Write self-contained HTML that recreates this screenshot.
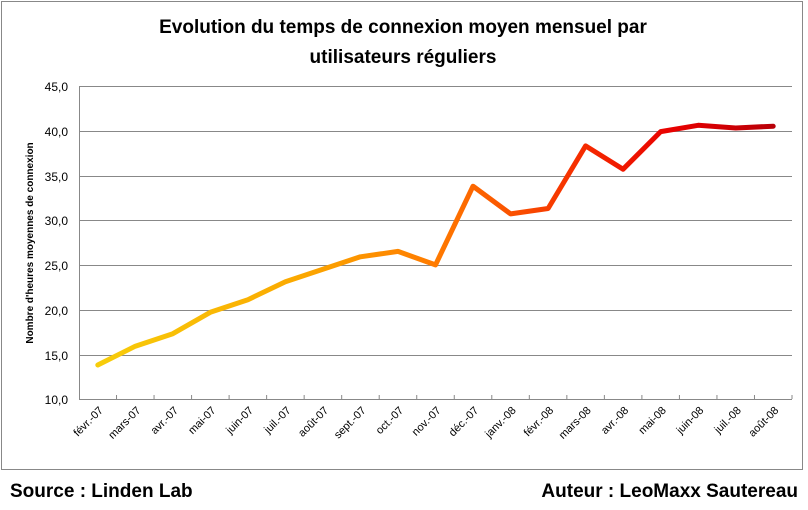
<!DOCTYPE html>
<html><head><meta charset="utf-8"><style>
body{margin:0;background:#fff;width:808px;height:505px;overflow:hidden;font-family:"Liberation Sans",sans-serif}
</style></head><body>
<svg width="808" height="505" viewBox="0 0 808 505" xmlns="http://www.w3.org/2000/svg">
<defs>
<linearGradient id="g" gradientUnits="userSpaceOnUse" x1="98" y1="0" x2="775" y2="0">
<stop offset="0" stop-color="#f7cd0a"/>
<stop offset="0.3" stop-color="#fba800"/>
<stop offset="0.5" stop-color="#ff7a00"/>
<stop offset="0.72" stop-color="#f52a00"/>
<stop offset="0.85" stop-color="#e80000"/>
<stop offset="1" stop-color="#b80008"/>
</linearGradient>
</defs>
<rect x="1.5" y="1.5" width="801" height="468" fill="#fff" stroke="#888" stroke-width="1"/>
<text x="403" y="33" text-anchor="middle" font-size="19" font-weight="bold" fill="#000">Evolution du temps de connexion moyen mensuel par</text>
<text x="403" y="63" text-anchor="middle" font-size="19" font-weight="bold" fill="#000">utilisateurs réguliers</text>
<g stroke="#888" stroke-width="1">
<line x1="79" y1="86.5" x2="792" y2="86.5"/>
<line x1="79" y1="131.5" x2="792" y2="131.5"/>
<line x1="79" y1="176.5" x2="792" y2="176.5"/>
<line x1="79" y1="220.5" x2="792" y2="220.5"/>
<line x1="79" y1="265.5" x2="792" y2="265.5"/>
<line x1="79" y1="310.5" x2="792" y2="310.5"/>
<line x1="79" y1="355.5" x2="792" y2="355.5"/>
<line x1="79.5" y1="86" x2="79.5" y2="399"/>
<line x1="79" y1="399.5" x2="792" y2="399.5"/>
</g>
<g font-size="12" fill="#000" text-anchor="end">
<text x="68" y="91">45,0</text><text x="68" y="136">40,0</text><text x="68" y="181">35,0</text>
<text x="68" y="225">30,0</text><text x="68" y="270">25,0</text><text x="68" y="315">20,0</text>
<text x="68" y="360">15,0</text><text x="68" y="404">10,0</text>
</g>
<text transform="translate(33,243) rotate(-90)" text-anchor="middle" font-size="10" font-weight="bold">Nombre d'heures moyennes de connexion</text>
<g id="ticks" stroke="#888"></g>
<g id="labels" font-size="11" fill="#000" text-anchor="end"></g>
<polyline id="ln" fill="none" stroke="url(#g)" stroke-width="5" stroke-linejoin="round" stroke-linecap="round"/>
<text x="10" y="497" font-size="19" font-weight="bold">Source : Linden Lab</text>
<text x="798" y="497" text-anchor="end" font-size="19" font-weight="bold">Auteur : LeoMaxx Sautereau</text>
</svg>
<script>
var v=[13.8,15.9,17.3,19.7,21.1,23.1,24.5,25.9,26.5,25.0,33.8,30.7,31.3,38.3,35.7,39.9,40.6,40.3,40.5];
var L=["févr.-07","mars-07","avr.-07","mai-07","juin-07","juil.-07","août-07","sept.-07","oct.-07","nov.-07","déc.-07","janv.-08","févr.-08","mars-08","avr.-08","mai-08","juin-08","juil.-08","août-08"];
var w=(792-79)/19,pts=[],t="",l="";
for(var i=0;i<19;i++){var x=79+w*(i+0.5),y=399-(v[i]-10)*313/35;pts.push(x.toFixed(1)+","+y.toFixed(1));
var tx=79+w*(i+1);t+='<line x1="'+tx+'" y1="395" x2="'+tx+'" y2="399"/>';
l+='<text transform="translate('+(x+6)+',411) rotate(-45)">'+L[i]+'</text>';}
document.getElementById("ln").setAttribute("points",pts.join(" "));
document.getElementById("ticks").innerHTML=t;document.getElementById("labels").innerHTML=l;
</script>
</body></html>
